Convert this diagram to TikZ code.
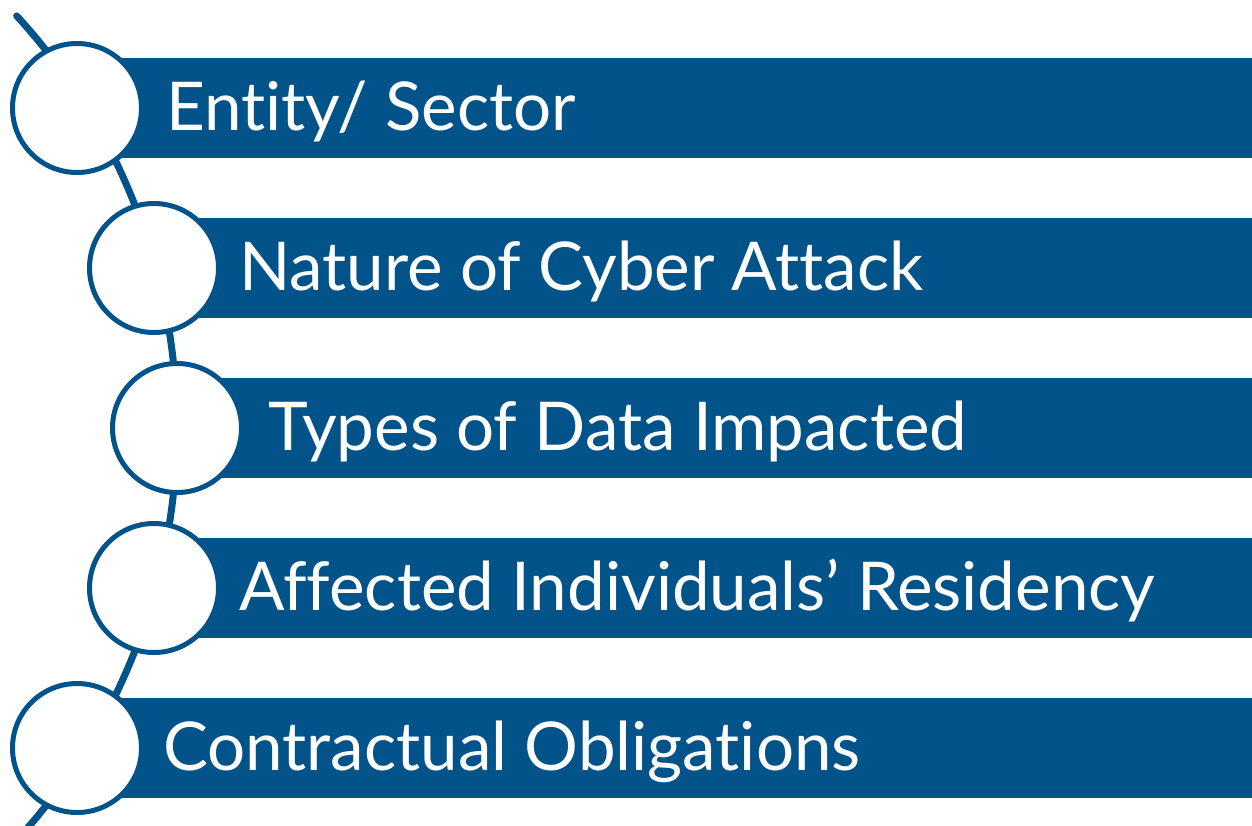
\documentclass[tikz,border=0pt]{standalone}
\usepackage{fontspec}
\setmainfont{Lato}[Ligatures={NoCommon,NoRare,NoDiscretionary}]
\usetikzlibrary{positioning}
\definecolor{listblue}{RGB}{2,83,138}

\begin{document}
\begin{tikzpicture}[x=1pt, y=1pt,
  ring/.style={circle, draw=listblue, line width=5, fill=white,
    minimum size=129, inner sep=0},
  bartext/.style={text=white, inner sep=0, anchor=base west,
    font=\fontsize{67.3}{81}\selectfont}]
\newcommand{\Barend}{1252}; % right end of the bars
\newcommand{\Arcrad}{610}; % radius of the spine

\useasboundingbox (0,0) rectangle (1252,-825);

% circle centres
\coordinate (P1) at ( 77,-108);
\coordinate (P2) at (154,-268);
\coordinate (P3) at (177,-428);
\coordinate (P4) at (154,-588);
\coordinate (P5) at ( 77,-748);

\coordinate (O) at (177 - \Arcrad, -428); % centre of the spine

% spine
\begin{scope}
\clip (0,0) rectangle (1252,-825);
\draw[listblue, line width=7, line cap=round]
  (O) ++(42.5:\Arcrad) arc[start angle=42.5, end angle=-42.5, radius=\Arcrad];
\end{scope}
%

% bars
\fill[listblue] (P1) ++(0, 50) rectangle (\Barend, -158);
\fill[listblue] (P2) ++(0, 50) rectangle (\Barend, -318);
\fill[listblue] (P3) ++(0, 50) rectangle (\Barend, -478);
\fill[listblue] (P4) ++(0, 50) rectangle (\Barend, -638);
\fill[listblue] (P5) ++(0, 50) rectangle (\Barend, -798);
%

\node[ring] (c1) at (P1) {};
\node[ring] (c2) at (P2) {};
\node[ring] (c3) at (P3) {};
\node[ring] (c4) at (P4) {};
\node[ring] (c5) at (P5) {};

\node[bartext] (t1) at (166,-130) {Entity/ Sector};
\node[bartext] (t2) at (239,-290) {Nature of Cyber Attack};
\node[bartext] (t3) at (268,-450) {Types of Data Impacted};
\node[bartext] (t4) at (239,-610) {Affected Individuals’ Residency};
\node[bartext] (t5) at (163,-770) {Contractual Obligations};
\end{tikzpicture}
\end{document}
